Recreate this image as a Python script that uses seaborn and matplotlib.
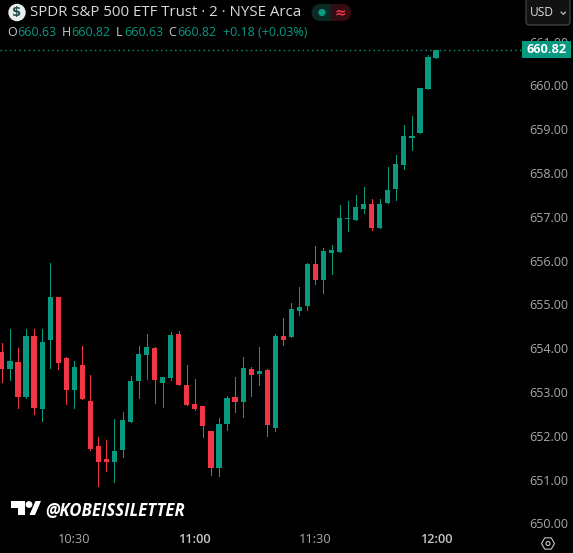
import matplotlib
matplotlib.use("Agg")
import matplotlib.pyplot as plt
from matplotlib.patches import FancyBboxPatch, Circle, Polygon, Rectangle, RegularPolygon, Wedge
import numpy as np
import pandas as pd
import seaborn as sns

opens = [653.92,653.53,653.69,652.89,654.28,652.61,654.19,655.17,653.78,653.05,653.62,652.80,651.77,651.47,651.40,
         651.68,652.32,653.25,653.85,654.01,653.21,653.32,654.33,653.16,652.73,652.68,652.11,651.27,652.27,652.89,
         652.77,653.53,653.41,653.50,652.18,654.28,654.26,654.85,654.97,655.93,655.56,656.18,656.20,656.95,656.93,
         657.18,657.30,656.75,657.32,657.64,658.19,658.81,658.92,659.92,660.63]
highs = [654.12,654.44,654.01,654.44,654.44,654.44,655.95,655.17,653.80,653.71,654.05,653.39,651.97,651.91,652.39,
         652.55,653.37,654.05,654.33,654.03,653.34,654.37,654.39,653.62,653.30,652.68,652.11,652.41,652.91,653.34,
         653.80,653.57,654.03,653.53,654.33,654.69,655.03,655.40,655.95,656.34,656.29,656.36,657.27,657.36,657.50,
         657.68,657.41,657.41,658.14,658.41,659.10,659.30,659.94,660.70,660.82]
lows = [653.23,653.28,652.64,652.87,652.50,652.34,653.55,653.53,652.73,652.64,652.84,651.68,650.86,651.20,650.95,
        651.52,652.32,652.87,653.30,652.75,652.66,653.28,653.16,652.71,652.59,651.97,651.11,651.08,652.13,652.55,
        652.43,652.91,653.16,652.00,652.11,654.07,654.26,654.76,654.87,655.47,655.26,655.70,656.20,656.68,656.93,
        657.09,656.70,656.75,657.32,657.39,658.09,658.53,658.92,659.92,660.63]
closes = [653.53,653.71,652.89,654.28,652.64,654.14,655.17,653.66,653.05,653.57,652.84,651.70,651.40,651.40,651.65,
          652.36,653.25,653.87,654.03,653.28,653.34,654.30,653.16,652.71,652.61,652.23,651.27,652.27,652.87,652.77,
          653.55,653.39,653.48,652.25,654.28,654.19,654.90,654.94,655.93,655.56,656.22,656.24,656.98,656.98,657.23,
          657.30,656.75,657.30,657.61,658.21,658.85,658.85,659.94,660.65,660.82]
price_ticks = [650, 651, 652, 653, 654, 655, 656, 657, 658, 659, 660, 661]
time_ticks = [9, 24, 39, 54]
time_labels = ["10:30", "11:00", "11:30", "12:00"]
last_price = 660.82

GREEN = "#089981"
RED = "#f23645"
W, H = 573, 553

df = pd.DataFrame({"i": np.arange(len(opens)), "o": opens, "h": highs, "l": lows, "c": closes})
df["up"] = df["c"] >= df["o"]
df["top"] = df[["o", "c"]].max(axis=1)
df["bot"] = df[["o", "c"]].min(axis=1)
df["body"] = df["top"] - df["bot"]

sns.set_theme(style="dark", rc={"axes.facecolor": "black", "figure.facecolor": "black",
                                "axes.grid": False, "font.family": ["Open Sans", "DejaVu Sans"]})
fig = plt.figure(figsize=(W / 100, H / 100), dpi=100)
ax = fig.add_axes([0, 0, 1, 1])

# price and candle scales
spacing = 8.04
x0 = 1.9
for up, col in [(True, GREEN), (False, RED)]:
    sub = df[df["up"] == up]
    ax.vlines(sub["i"], sub["l"], sub["h"], color=col, lw=0.7, zorder=2, antialiased=False)
    sns.barplot(data=sub, x="i", y="body", native_scale=True, errorbar=None, color=col, saturation=1,
                width=0.64, bottom=sub["bot"].to_numpy(), linewidth=0, ax=ax, zorder=3)

ax.axhline(last_price, xmin=0, xmax=521 / W, color=GREEN, lw=1.0, ls=(0, (1, 2.4)), zorder=1)

ax.set_xlim((0 - x0) / spacing, (W - x0) / spacing)
ax.set_ylim(660 - (H - 85.5) / 43.8, 660 + 85.5 / 43.8)
ax.set_xlabel("")
ax.set_ylabel("")
for s in ax.spines.values():
    s.set_visible(False)

ax.set_yticks(price_ticks)
ax.set_yticklabels([f"{p:.2f}" for p in price_ticks])
ax.tick_params(axis="y", length=0, left=False, right=False, labelleft=False, labelright=True,
               pad=-31.5, labelsize=9, labelcolor="#a9a9a9")
ax.set_xticks(time_ticks)
ax.set_xticklabels(time_labels)
ax.tick_params(axis="x", length=0, pad=-14.5, labelsize=9.2, labelcolor="#a9a9a9")
for lab, txt in zip(ax.get_xticklabels(), time_labels):
    lab.set_ha("center")
    if txt.endswith(":00"):
        lab.set_color("#c4c4c4")
        lab.set_fontweight("semibold")

# overlay in pixel coordinates for the chrome
ov = fig.add_axes([0, 0, 1, 1], facecolor="none")
ov.set_xlim(0, W)
ov.set_ylim(H, 0)
ov.axis("off")

# header
ov.add_patch(Circle((17, 12.5), 8.7, color="#e8eeee", lw=0))
ov.text(17, 12.5, "$", color="#1f4d47", fontsize=9.5, fontweight="bold", ha="center", va="center", family="DejaVu Sans")
ov.text(30, 12.5, "SPDR S&P 500 ETF Trust · 2 · NYSE Arca", color="#d9d9d9", fontsize=10.8, va="center")

row = [("O", 7), ("660.63", 17), ("H", 62), ("660.82", 71), ("L", 116), ("660.63", 124), ("C", 168), ("660.82", 177),
       ("+0.18 (+0.03%)", 223)]
for txt, x in row:
    col = "#c8c8c8" if len(txt) == 1 else GREEN
    ov.text(x, 32.5, txt, color=col, fontsize=9, va="center")

# status pill, green half and red half
ov.add_patch(Wedge((320, 12.5), 8.5, 90, 270, fc="#0c2a25", ec="none"))
ov.add_patch(Rectangle((320, 4), 11, 17, fc="#0c2a25", ec="none"))
ov.add_patch(Rectangle((331, 4), 12, 17, fc="#330c14", ec="none"))
ov.add_patch(Wedge((343, 12.5), 8.5, -90, 90, fc="#330c14", ec="none"))
ov.add_patch(Circle((322, 12.5), 3.6, color=GREEN, lw=0))
ov.text(340, 12, "≈", color=RED, fontsize=10, fontweight="bold", ha="center", va="center", family="DejaVu Sans")

# currency button
ov.add_patch(FancyBboxPatch((526, -6), 44, 31, boxstyle="round,pad=0,rounding_size=3.5",
                            fc="#121212", ec="#4a4a4a", lw=0.8))
ov.text(529.5, 13, "USD", color="#dcdcdc", fontsize=8.6, va="center")
ov.plot([561, 563.3, 565.6], [12, 14.3, 12], color="#bdbdbd", lw=0.9)

# last price tag
ov.add_patch(Rectangle((522, 41), 49, 17, fc=GREEN, ec="none", zorder=5))
ov.text(546.5, 49.8, "660.82", color="white", fontsize=9.2, fontweight="bold", ha="center", va="center", zorder=6)

# watermark
ov.add_patch(Polygon([(10.5, 501), (25, 501), (25, 515), (18, 515), (18, 507.5), (10.5, 507.5)], fc="white", ec="none"))
ov.add_patch(Circle((29, 504.5), 3.4, color="white", lw=0))
ov.add_patch(Polygon([(29.5, 515), (35.5, 501), (41, 501), (35, 515)], fc="white", ec="none"))
ov.text(45, 510.5, "@KOBEISSILETTER", color="white", fontsize=12.1, fontweight="bold", style="italic", va="center")

# auto-scale icon
ov.add_patch(RegularPolygon((548, 543.5), 6, radius=6.5, orientation=np.pi / 2, fc="none", ec="#c4c4c4", lw=0.8))
ov.add_patch(Circle((548, 543.5), 2, fc="none", ec="#c4c4c4", lw=0.8))

fig.savefig("out.png", dpi=100, facecolor="black")
